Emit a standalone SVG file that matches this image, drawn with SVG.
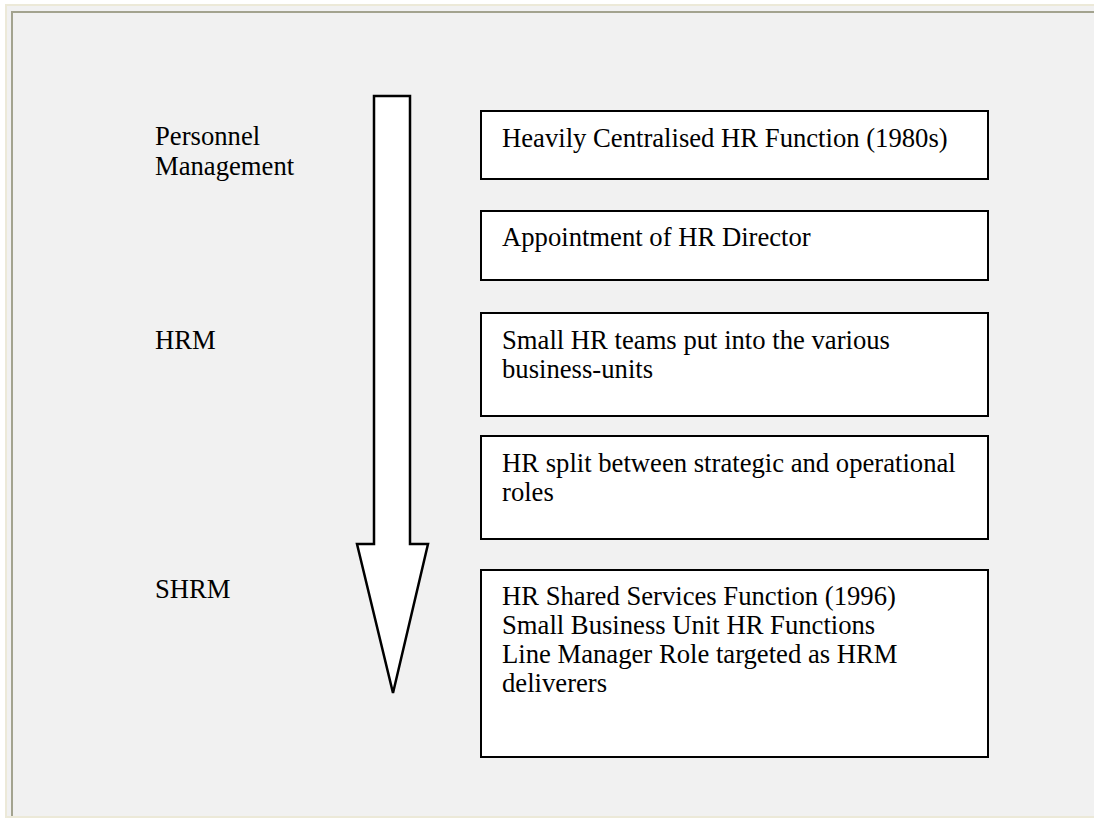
<svg xmlns="http://www.w3.org/2000/svg" width="1094" height="818" viewBox="0 0 1094 818">
  <style>
    .lbl { font-family: "Liberation Serif", "Times New Roman", serif; font-size: 26.67px; fill: #000; }
    .box { fill: #fff; stroke: #000; stroke-width: 2; }
    .frame { stroke: #a3a38f; stroke-width: 2; fill: none; }
  </style>
  <!-- page and canvas frame -->
  <rect x="0" y="0" width="1094" height="818" fill="#fff"/>
  <rect x="5" y="4" width="1089" height="814" fill="#ece9d8"/>
  <rect x="7" y="6" width="1087" height="810" fill="#f1f1f1"/>
  <path class="frame" d="M12 816 V12 H1094"/>

  <!-- downward timeline arrow -->
  <g id="connectors">
    <polygon points="374,96 410,96 410,544 428,544 393,693 357,544 374,544" fill="#fff" stroke="#000" stroke-width="2.5" stroke-linejoin="miter"/>
  </g>

  <!-- phase labels -->
  <g id="label-personnel">
    <text class="lbl" x="155" y="145">Personnel</text>
    <text class="lbl" x="155" y="175">Management</text>
  </g>
  <g id="label-hrm"><text class="lbl" x="155" y="349">HRM</text></g>
  <g id="label-shrm"><text class="lbl" x="155" y="598">SHRM</text></g>

  <!-- stages -->
  <g id="stage-1">
    <rect class="box" x="481" y="111" width="507" height="68"/>
    <text class="lbl" x="502" y="147">Heavily Centralised HR Function (1980s)</text>
  </g>
  <g id="stage-2">
    <rect class="box" x="481" y="211" width="507" height="69"/>
    <text class="lbl" x="502" y="246">Appointment of HR Director</text>
  </g>
  <g id="stage-3">
    <rect class="box" x="481" y="313" width="507" height="103"/>
    <text class="lbl" x="502" y="349">Small HR teams put into the various</text>
    <text class="lbl" x="502" y="378">business-units</text>
  </g>
  <g id="stage-4">
    <rect class="box" x="481" y="436" width="507" height="103"/>
    <text class="lbl" x="502" y="472">HR split between strategic and operational</text>
    <text class="lbl" x="502" y="501">roles</text>
  </g>
  <g id="stage-5">
    <rect class="box" x="481" y="570" width="507" height="187"/>
    <text class="lbl" x="502" y="605">HR Shared Services Function (1996)</text>
    <text class="lbl" x="502" y="634">Small Business Unit HR Functions</text>
    <text class="lbl" x="502" y="663">Line Manager Role targeted as HRM</text>
    <text class="lbl" x="502" y="692">deliverers</text>
  </g>
</svg>
